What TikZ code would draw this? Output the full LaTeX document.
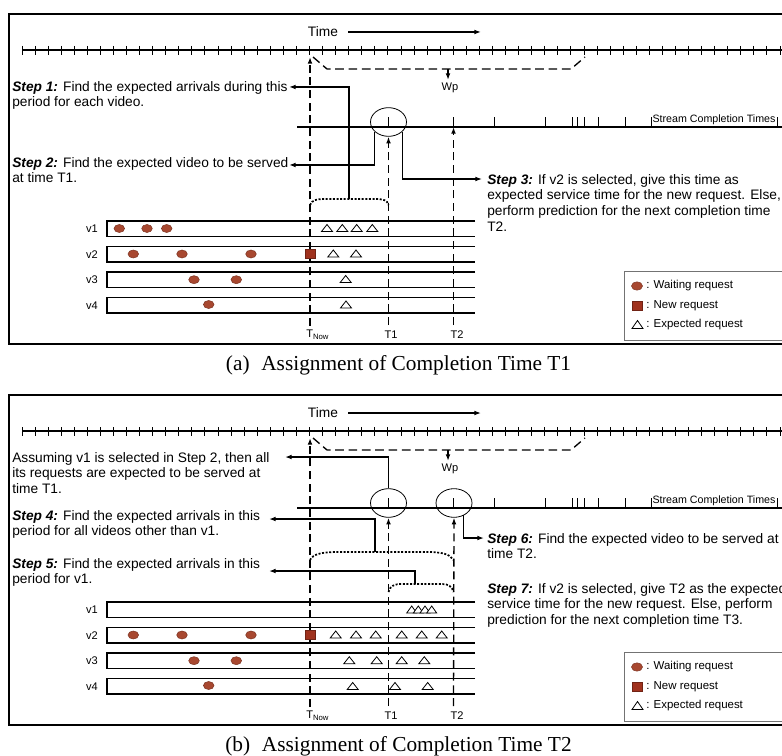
\documentclass[tikz,border=0pt]{standalone}
\usepackage{fontspec}
\setmainfont{Liberation Sans}
\newfontfamily\capfont{Liberation Serif}
\usetikzlibrary{arrows.meta,shapes.geometric,calc}

\definecolor{wcol}{RGB}{168,72,48}
\definecolor{ncol}{RGB}{160,50,30}

\newcommand\stepfont{\fontsize{10.3}{11.78}\selectfont}
\newcommand\lblfont{\fontsize{8.3}{10}\selectfont}
\newcommand\legfont{\fontsize{8.6}{10}\selectfont}
\newcommand\scfont{\fontsize{8}{9.6}\selectfont}
\newcommand\stepbf[1]{\textbf{\textit{#1}}}

\tikzset{
  frame/.style={line width=1.7pt},
  ln/.style={line width=1pt},
  tk/.style={line width=0.75pt},
  arr/.style={line width=1pt,-{Latex[length=5pt,width=3.6pt]}},
  dasharr/.style={line width=1pt,dash pattern=on 6pt off 3.5pt,-{Latex[length=5pt,width=3.6pt]}},
  dashln/.style={line width=1pt,dash pattern=on 6.5pt off 3.5pt},
  dotln/.style={line width=1.3pt,dash pattern=on 1.5pt off 1.2pt},
  txt/.style={font=\stepfont,align=left,inner sep=0pt,anchor=north west},
  lbl/.style={font=\lblfont,inner sep=0pt},
  oval/.style={draw,shape=ellipse,inner sep=0pt,minimum width=27pt,minimum height=21.5pt,line width=0.6pt},
  tri/.style={line width=0.6pt,fill=white},
  wreq/.style={fill=wcol,draw=wcol!75!black,line width=0.4pt},
  nreq/.style={fill=ncol,draw=ncol!70!black,line width=0.4pt},
}

\newcommand\exptri[4]{\draw[tri] ({#1-#3/2},{#2+#4/2}) -- (#1,{#2-#4/2}) -- ({#1+#3/2},{#2+#4/2}) -- cycle;}
\newcommand\waitreq[2]{\draw[wreq] (#1,#2) ellipse [x radius=5.3, y radius=4];}

\newcommand\sharedpanel[2]{%
  % frame
  \draw[frame] (830,14) -- (9,14) -- (9,344) -- (830,344);
  % time label and arrow
  \node[font=\stepfont,inner sep=0pt] (time#1) at (323,32) {Time};
  \coordinate (timeend#1) at (481,32);
  \draw[arr] ($(time#1.east)+(10,0)$) -- (timeend#1);
  % timeline
  \draw[ln] (22,50) -- (800,50);
  \foreach \k in {0,...,58} {\draw[tk] ({22+13.07*\k},46) -- ({22+13.07*\k},55);}
  % Wp window
  \draw[dashln] (313,57) -- (327,69) -- (571,69) -- (585,57);
  \coordinate (wpsrc#1) at (448,69);
  \coordinate (wptip#1) at (448,80);
  \draw[arr] (wpsrc#1) -- (wptip#1);
  \node[lbl] (wp#1) at (450,88) {Wp};
  % stream completion line
  \draw[ln] (297,127) -- (800,127);
  \foreach \x in {388.5,453.5,494,545.7,572.7,577.3,584,598,625,651,777} {\draw[tk] (\x,127) -- (\x,117);}
  \node[font=\scfont,inner sep=0pt] (sct#1) at (714,120) {Stream Completion Times};
  % T now
  \coordinate (tnowtop#1) at (310,57);
  \node[lbl,anchor=west] (tnow#1) at (306,335) {T\textsubscript{Now}};
  \draw[dasharr] ($(tnowtop#1 |- tnow#1.north)+(0,-4)$) -- (tnowtop#1);
  \node[lbl] (t1#1) at (391,335) {T1};
  \node[lbl] (t2#1) at (457,335) {T2};
  \coordinate (t1bot#1) at (388.5,325);
  \coordinate (t2bot#1) at (453.5,325);
  % rows
  \foreach \i/\n in {0/1,1/2,2/3,3/4} {
    \pgfmathsetmacro\rt{221+25.5*\i}
    \draw[ln] (475,\rt) -- (107,\rt) -- (107,{\rt+15.5}) -- (475,{\rt+15.5});
    \node[lbl] (v\n#1) at (92,{\rt+7.75}) {v\n};
  }
  % requests common to both panels
  \foreach \x in {133.3,182,251} {\waitreq{\x}{254}}
  \foreach \x in {194,236.3} {\waitreq{\x}{279.7}}
  \waitreq{208.7}{304.5}
  \draw[nreq] (305,249.5) rectangle (315,258.5);
  % legend
  \draw[line width=0.6pt,draw=black!55] (624,271) rectangle (830,340);
  \draw[wreq] (637,286) ellipse [x radius=5.5, y radius=4.2];
  \node[font=\legfont,inner sep=0pt,anchor=west] (lw#1) at (646,286) {: Waiting request};
  \draw[nreq] (632,301.5) rectangle (642,310.5);
  \node[font=\legfont,inner sep=0pt,anchor=west] (ln#1) at (646,306) {: New request};
  \exptri{637.5}{324.5}{11}{8}
  \node[font=\legfont,inner sep=0pt,anchor=west] (le#1) at (646,324.5) {: Expected request};
  % caption
  \node[font=\capfont\fontsize{16}{19}\selectfont,inner sep=0pt] (cap#1) at (398.5,365) {#2};
}

\begin{document}
\begin{tikzpicture}[x=0.75pt,y=-0.75pt]
\useasboundingbox (0,0) rectangle (782,756);
\clip (0,0) rectangle (782,756);

% ---------------- panel (a)
\begin{scope}
\sharedpanel{a}{(a)\hspace{0.55em}Assignment of Completion Time T1}
\node[oval] (e1a) at (388.5,122) {};
\draw[dasharr] (t1bota) -- (e1a.south);
\coordinate (t2topa) at (453.5,127);
\draw[dasharr] (t2bota) -- (t2topa);
% brace TNow..T1
\draw[dotln] (310,205) .. controls (312,200) and (316,199) .. (326,199) -- (374,199) .. controls (384,199) and (387,200) .. (388.5,205);
\coordinate (br1a) at (349,199);
\coordinate (s1tipa) at (289,87);
\coordinate (s2tipa) at (289,165);
\coordinate (s3tipa) at (482,179);
\draw[arr] (br1a) |- (s1tipa);
\draw[arr] (e1a.-145) |- (s2tipa);
\draw[arr] (e1a.-35) |- (s3tipa);
\node[txt] (s1a) at (12,79.9) {\strut\stepbf{Step 1:} Find the expected arrivals during this\\period for each video.};
\node[txt] (s2a) at (12,155.9) {\strut\stepbf{Step 2:} Find the expected video to be served\\at time T1.};
\node[txt] (s3a) at (487,172.9) {\strut\stepbf{Step 3:} If v2 is selected, give this time as\\expected service time for the new request. Else,\\perform prediction for the next completion time\\T2.};
% requests
\foreach \x in {119.3,147,166.7} {\waitreq{\x}{228.5}}
\foreach \x in {327,342.3,356.7,372.3} {\exptri{\x}{228}{11}{7}}
\foreach \x in {333.3,356} {\exptri{\x}{253.5}{11}{7}}
\exptri{345.7}{279}{11}{7}
\exptri{346}{304.5}{11}{7}
\end{scope}

% ---------------- panel (b)
\begin{scope}[shift={(0,381)}]
\sharedpanel{b}{(b)\hspace{0.55em}Assignment of Completion Time T2}
\node[oval] (e1b) at (388.5,122) {};
\node[oval] (e2b) at (454,122) {};
\draw[dasharr] (t1botb) -- (e1b.south);
\draw[dasharr] (t2botb) -- (e2b.south);
% braces
\draw[dotln] (310,179) .. controls (313,173) and (322,171) .. (338,171) -- (426,171) .. controls (442,171) and (450,173) .. (453.5,179);
\draw[dotln] (388.5,211) .. controls (390,205) and (394,203) .. (402,203) -- (442,203) .. controls (448,203) and (452,205) .. (453.5,211);
\coordinate (br4b) at (375,171);
\coordinate (br5b) at (415,203);
\coordinate (asstipb) at (285,76);
\coordinate (s4tipb) at (269,138);
\coordinate (s5tipb) at (269,190);
\coordinate (s6tipb) at (484,157);
\draw[arr] (e1b.north) |- (asstipb);
\draw[arr] (br4b) |- (s4tipb);
\draw[arr] (br5b) |- (s5tipb);
\draw[arr] (e2b.-52) |- (s6tipb);
\node[txt] (assb) at (12,69.9) {\strut Assuming v1 is selected in Step 2, then all\\its requests are expected to be served at\\time T1.};
\node[txt] (s4b) at (12,127.9) {\strut\stepbf{Step 4:} Find the expected arrivals in this\\period for all videos other than v1.};
\node[txt] (s5b) at (12,175.9) {\strut\stepbf{Step 5:} Find the expected arrivals in this\\period for v1.};
\node[txt] (s6b) at (487,150.9) {\strut\stepbf{Step 6:} Find the expected video to be served at\\time T2.};
\node[txt] (s7b) at (487,200.9) {\strut\stepbf{Step 7:} If v2 is selected, give T2 as the expected\\service time for the new request. Else, perform\\prediction for the next completion time T3.};
% requests
\foreach \x in {411.7,418.3,425,431.7} {\exptri{\x}{228.5}{10}{7}}
\foreach \x in {335.7,356,375.7,401.7,421.7,441.7} {\exptri{\x}{253.5}{11}{7}}
\foreach \x in {349.3,376.7,401.7,424.3} {\exptri{\x}{279.2}{11}{7}}
\foreach \x in {352.7,395,427.7} {\exptri{\x}{305}{11}{7}}
\end{scope}
\end{tikzpicture}
\end{document}
